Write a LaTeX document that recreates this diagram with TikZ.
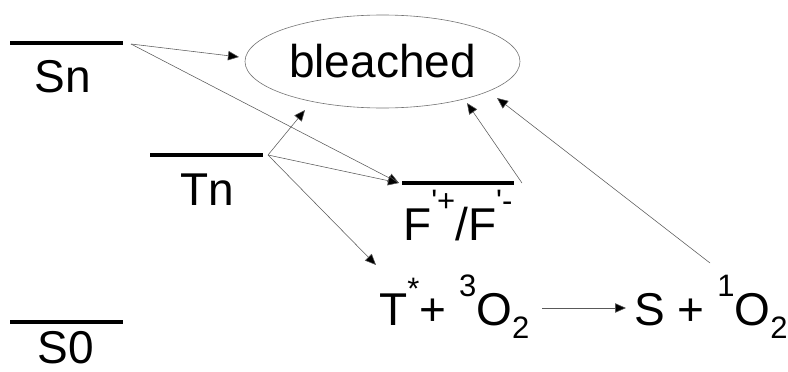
\documentclass[tikz,border=0pt]{standalone}
\usepackage{fontspec}
\setmainfont{Liberation Sans}
\usetikzlibrary{arrows.meta,shapes.geometric}
\newcommand\hiup[2]{\raisebox{#1}{\fontsize{31}{31}\selectfont #2}}
\newcommand\lodn[1]{\raisebox{-0.29em}{\fontsize{31}{31}\selectfont #1}}
\begin{document}
\begin{tikzpicture}[x=1pt,y=-1pt,
  level/.style={line width=4.5pt},
  lbl/.style={font=\fontsize{46}{50}\selectfont, inner sep=0pt},
  conn/.style={draw=black!65, line width=0.55pt, -{Triangle[length=11pt,width=9.5pt,fill=black]}}]
\useasboundingbox (0,0) rectangle (788,372);
% levels
\coordinate (snL) at (10,43);  \coordinate (snR) at (123,43);
\coordinate (tnL) at (150,155); \coordinate (tnR) at (263,155);
\coordinate (fL) at (402,183);  \coordinate (fR) at (514,183);
\coordinate (s0L) at (10,322); \coordinate (s0R) at (123,322);
\draw[level] (snL) -- (snR);
\draw[level] (tnL) -- (tnR);
\draw[level] (fL) -- (fR);
\draw[level] (s0L) -- (s0R);
% labels
\node[lbl, anchor=base] (sn) at (63,92) {Sn};
\node[lbl, anchor=base] (tn) at (207,205) {Tn};
\node[lbl, anchor=base] (s0) at (66,363) {S0};
\node[lbl, anchor=base west] (fpm) at (403,240) {F\hiup{0.62em}{\textquotesingle+}/F\hiup{0.62em}{\textquotesingle-}};
\node[lbl, anchor=base west] (tox) at (379,325) {T\hiup{0.55em}{*}+ \hiup{0.62em}{3}O\lodn{2}};
\node[lbl, anchor=base west] (sox) at (634,325) {S + \hiup{0.62em}{1}O\lodn{2}};
\node[lbl, ellipse, draw=black!55, line width=0.6pt, minimum width=275pt, minimum height=93pt] (bl) at (382.5,61.5) {bleached};
% connector ends
\coordinate (snOut) at (131,44);
\coordinate (tnOut) at (268,155);
\coordinate (fOut) at (522,183);
\coordinate (fIn) at (399,183);
\coordinate (soOut) at (710,263);
\coordinate (toIn) at (376,265);
\coordinate (blA) at (239,57);
\coordinate (blB) at (305,110);
\coordinate (blC) at (467,103);
\coordinate (blD) at (497,98);
\coordinate (arS) at (542,308);
\coordinate (arE) at (626,308);
% connectors
\draw[conn] (snOut) -- (blA);
\draw[conn] (snOut) -- (fIn);
\draw[conn] (tnOut) -- (blB);
\draw[conn] (tnOut) -- (fIn);
\draw[conn] (tnOut) -- (toIn);
\draw[conn] (fOut) -- (blC);
\draw[conn] (soOut) -- (blD);
\draw[conn] (arS) -- (arE);
\end{tikzpicture}
\end{document}
